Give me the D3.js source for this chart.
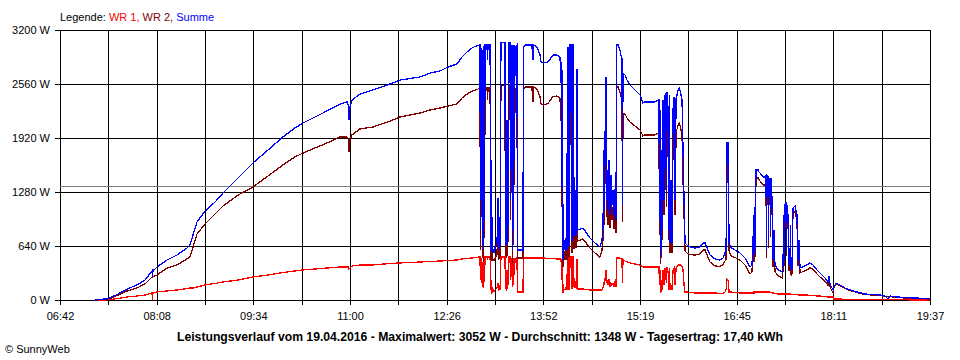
<!DOCTYPE html>
<html><head><meta charset="utf-8">
<script src="https://cdn.jsdelivr.net/npm/d3@7"></script>
<style>
body{margin:0;background:#fff;}
svg{display:block;font-family:"Liberation Sans",Arial,sans-serif;}
</style></head><body>
<svg id="c" width="960" height="360"></svg>
<script>
// ---- data ----
const legendTitle = "Legende:";
const seriesNames = ["WR 1", "WR 2", "Summe"];
const timeTickLabels = ["06:42","08:08","09:34","11:00","12:26","13:52","15:19","16:45","18:11","19:37"];
const yTickValues = [0, 640, 1280, 1920, 2560, 3200];
const dayStart = 402;   // 06:42 in minutes
const dayEnd = 1177;    // 19:37 in minutes
const averageW = 1348;
const caption = "Leistungsverlauf vom 19.04.2016 - Maximalwert: 3052 W - Durchschnitt: 1348 W - Tagesertrag: 17,40 kWh";
const copyright = "\u00A9 SunnyWeb";

// time of each sample, minutes since midnight
const times = [
433.2,442.1,446.5,453.7,461.7,470.6,477.7,484.0,484.4,484.8,488.4,497.3,506.2,515.1,517.8,520.5,524.0,531.2,540.1,547.2,
560.6,573.9,587.3,600.6,611.3,618.5,629.2,639.8,651.4,657.7,659.0,659.4,660.3,662.1,669.2,680.8,696.0,704.9,722.7,731.6,
740.5,747.6,755.6,760.1,764.6,769.0,772.6,
776.1,776.6,777.0,777.5,777.9,778.4,778.8,779.3,779.7,780.2,780.6,782.4,782.8,783.3,785.1,786.0,786.4,786.9,787.8,788.6,
789.5,791.3,792.2,792.6,794.0,794.8,798.4,798.8,799.3,800.2,800.6,801.1,801.5,802.9,803.3,803.7,804.2,804.6,805.1,805.5,
806.0,806.4,806.9,807.3,809.1,809.5,814.4,814.9,816.2,822.4,823.3,823.8,826.9,829.6,830.5,832.3,836.7,841.2,844.7,847.4,
848.3,848.7,849.2,849.6,850.1,851.0,851.8,852.7,853.6,854.0,854.5,854.9,855.4,855.8,857.2,857.6,858.1,858.5,859.4,859.9,
861.7,862.1,862.6,863.0,867.9,874.1,878.6,883.0,884.8,885.7,886.6,887.0,887.9,888.4,888.8,889.7,890.2,891.1,891.9,892.8,
893.7,894.6,895.5,896.9,897.3,897.8,899.1,900.8,901.7,902.6,903.1,903.5,905.3,907.1,909.8,914.2,918.7,
921.3,923.1,927.6,932.0,934.7,935.6,936.0,936.5,936.9,937.4,937.8,938.3,938.7,939.2,940.1,940.5,941.0,941.9,942.3,942.8,
943.7,944.6,945.0,945.4,946.3,947.2,948.1,949.0,949.9,950.8,951.7,952.6,953.5,954.3,955.2,956.1,957.0,957.9,958.8,960.5,
963.2,967.7,972.1,974.8,976.6,978.4,981.0,985.5,990.0,992.7,994.4,995.3,995.8,996.2,997.1,997.6,998.0,999.8,1003.3,1007.7,
1012.2,1016.7,1018.4,1019.3,1019.8,1020.2,1020.7,1021.1,1021.6,1022.0,1022.9,1023.8,1024.7,1025.6,1028.2,1030.0,1030.9,1031.4,1031.8,1032.7,
1033.1,1033.6,1034.5,1034.9,1035.4,1036.3,1037.1,1038.0,1038.9,1041.6,1045.2,1046.0,1046.9,1047.4,1047.8,1048.7,1049.1,1049.6,1050.5,1051.4,
1052.3,1052.7,1053.2,1054.1,1054.9,1056.7,1058.5,1059.4,1060.3,1061.2,1063.0,1067.4,1070.1,1072.8,1076.3,1079.0,1083.5,1086.1,1087.0,1087.9,
1090.6,1091.0,1093.3,1096.8,1101.3,1105.7,1112.0,1119.1,1132.5,1137.0,1139.6,1141.4,1147.6,1161.9,1177.0
];

// WR 1 (W)
const wr1 = [
0,0,6,18,36,47,59,83,0,83,95,107,119,136,142,142,154,178,196,213,
237,273,296,326,344,356,367,379,391,391,391,367,379,403,415,415,433,439,450,456,
462,468,474,486,492,498,504,
510,237,498,201,450,154,415,142,498,213,510,510,474,510,510,119,237,95,119,95,
119,142,201,119,130,510,510,142,130,356,130,201,510,510,237,498,273,356,154,498,
178,498,296,486,498,95,95,498,498,498,498,498,498,498,498,498,492,492,486,486,
450,486,237,450,83,130,119,142,119,498,498,130,130,510,510,142,142,510,510,154,
142,474,474,130,130,119,119,119,119,142,213,178,296,356,201,237,178,249,154,201,
178,201,166,237,154,498,498,498,486,486,201,486,462,450,439,427,415,
391,391,391,391,391,391,178,356,83,119,95,237,119,356,178,379,237,379,201,391,
332,119,379,119,178,119,356,379,178,379,403,415,415,415,415,403,356,178,95,95,
89,83,83,83,83,83,83,83,77,77,95,119,178,249,237,166,95,95,89,83,
83,83,83,83,95,83,95,83,95,95,95,95,95,95,95,95,95,95,95,95,
95,95,89,89,89,83,83,83,77,71,71,71,71,71,71,71,71,71,71,71,
71,71,65,65,65,65,65,65,59,59,59,59,53,53,47,47,41,36,36,36,
36,12,12,12,6,6,6,6,6,6,6,6,6,0,0
];

// WR 2 (W)
const wr2 = [
0,6,18,59,107,142,190,273,273,273,296,379,415,486,510,628,782,901,1019,1114,
1244,1339,1470,1600,1695,1742,1802,1861,1932,1932,1908,1754,1896,1956,2027,2050,2121,2169,2216,2252,
2276,2299,2323,2394,2441,2477,2489,
2512,593,2489,984,2513,498,2429,451,2512,735,2512,2512,2370,2512,2512,474,1422,474,474,462,
497,534,1008,474,522,2536,2542,534,522,1777,522,747,2536,2536,948,2524,1268,1777,439,2524,
652,2524,1363,2501,2524,498,498,2501,2524,2524,2346,2524,2501,2406,2323,2311,2329,2412,2418,2394,
2122,2335,1102,2276,391,581,474,593,474,2489,2489,522,522,2512,2512,569,569,2512,2512,616,
628,2252,2252,700,723,616,557,509,592,723,1565,889,2074,2287,984,1304,889,1410,853,1281,
948,1103,841,1185,794,2524,2524,2465,2418,2382,925,2204,2205,2157,2109,2062,2015,
1944,1956,1956,1956,1979,1979,770,1896,427,1066,498,1541,711,2014,1007,2051,1304,2074,1103,2074,
1920,711,2051,557,1244,557,1896,2027,1007,2015,2027,2074,2098,2074,2015,1967,1422,1007,581,557,
539,533,545,593,593,533,450,403,397,421,462,474,1007,1612,1624,1019,581,521,504,474,
415,308,332,545,912,450,1007,510,1090,1446,1446,1446,1422,1410,1363,1363,1387,498,1387,1375,
616,1327,1357,741,1357,1102,391,747,338,285,261,344,936,403,1055,1090,522,1055,936,344,
403,818,291,314,1025,1049,942,409,652,320,332,356,386,362,309,273,220,177,248,154,
83,130,189,166,136,113,89,65,53,41,41,41,30,18,12
];

// Summe (W)
const summe = [
0,12,24,71,130,178,237,344,273,344,391,474,533,616,652,770,924,1055,1161,1268,
1446,1624,1778,1932,2039,2098,2169,2240,2323,2347,2299,2133,2287,2370,2441,2489,2560,2607,2643,2690,
2714,2761,2797,2880,2939,2987,3010,
3022,830,2987,1185,2963,652,2844,593,3010,948,3022,3022,2844,3022,3022,593,1659,569,593,557,
616,676,1209,593,652,3046,3052,676,652,2133,652,948,3046,3046,1185,3022,1541,2133,593,3022,
830,3022,1659,2987,3022,593,593,2999,3022,3022,2844,3022,2999,2904,2821,2809,2821,2904,2904,2880,
2572,2821,1339,2726,474,711,593,735,593,2987,2987,652,652,3022,3022,711,711,3022,3022,770,
770,2726,2726,830,853,735,676,628,711,865,1778,1067,2370,2643,1185,1541,1067,1659,1007,1482,
1126,1304,1007,1422,948,3022,3022,2963,2904,2868,1126,2690,2667,2607,2548,2489,2430,
2335,2347,2347,2347,2370,2370,948,2252,510,1185,593,1778,830,2370,1185,2430,1541,2453,1304,2465,
2252,830,2430,676,1422,676,2252,2406,1185,2394,2430,2489,2513,2489,2430,2370,1778,1185,676,652,
628,616,628,676,676,616,533,486,474,498,557,593,1185,1861,1861,1185,676,616,593,557,
498,391,415,628,1007,533,1102,593,1185,1541,1541,1541,1517,1505,1458,1458,1482,593,1482,1470,
711,1422,1446,830,1446,1185,474,830,415,356,332,415,1007,474,1126,1161,593,1126,1007,415,
474,889,356,379,1090,1114,1007,474,711,379,391,415,439,415,356,320,261,213,284,190,
119,142,201,178,142,119,95,71,59,47,12,47,36,24,18
];

// ---- drawing ----
const colors = ["#ff0000", "#800000", "#0000ff"];
const svg = d3.select("#c");
svg.append("rect").attr("width", 960).attr("height", 360).attr("fill", "#fff");

const x = d3.scaleLinear().domain([dayStart, dayEnd]).range([60, 930]);
const y = d3.scaleLinear().domain([0, 3200]).range([300, 30]);

const xTickValues = d3.range(19).map(i => dayStart + i * (dayEnd - dayStart) / 18);

// vertical grid + x labels
const gx = svg.append("g").attr("transform", "translate(0,30)")
  .call(d3.axisBottom(x).tickValues(xTickValues).tickSize(275).tickPadding(7)
    .tickFormat((d, i) => i % 2 === 0 ? timeTickLabels[i / 2] : ""));
// horizontal grid + y labels
const gy = svg.append("g").attr("transform", "translate(930,0)")
  .call(d3.axisLeft(y).tickValues(yTickValues).tickSize(875).tickPadding(5)
    .tickFormat(d => d + " W"));

[gx, gy].forEach(g => {
  g.select(".domain").remove();
  g.selectAll("line").attr("stroke", "#000").attr("shape-rendering", "crispEdges");
  g.selectAll("text").attr("fill", "#000").attr("font-size", "11px")
    .attr("font-family", '"Liberation Sans",Arial,sans-serif');
});

// average line
svg.append("line")
  .attr("x1", x(dayStart)).attr("x2", x(dayEnd))
  .attr("y1", Math.round(y(averageW)) + 0.5).attr("y2", Math.round(y(averageW)) + 0.5)
  .attr("stroke", "#808080").attr("shape-rendering", "crispEdges");

// series
const seriesData = [wr1, wr2, summe];
const line = d3.line().x((d, i) => x(times[i])).y(d => y(d));
seriesData.forEach((vals, k) => {
  svg.append("path").datum(vals)
    .attr("d", line)
    .attr("fill", "none")
    .attr("stroke", colors[k])
    .attr("stroke-width", 1.3)
    .attr("stroke-linejoin", "miter")
    .attr("shape-rendering", "crispEdges");
});

// legend
const leg = svg.append("text").attr("x", 60).attr("y", 21).attr("font-size", "11px");
leg.append("tspan").attr("fill", "#000").text(legendTitle + " ");
seriesNames.forEach((n, k) => {
  leg.append("tspan").attr("fill", colors[k]).text(n + (k < seriesNames.length - 1 ? ", " : ""));
});

// caption
svg.append("text").attr("x", 480).attr("y", 341).attr("text-anchor", "middle")
  .attr("font-size", "12.2px").attr("font-weight", "bold").attr("fill", "#000").text(caption);

svg.append("text").attr("x", 5).attr("y", 353).attr("font-size", "11px").attr("fill", "#000").text(copyright);
</script>
</body></html>
